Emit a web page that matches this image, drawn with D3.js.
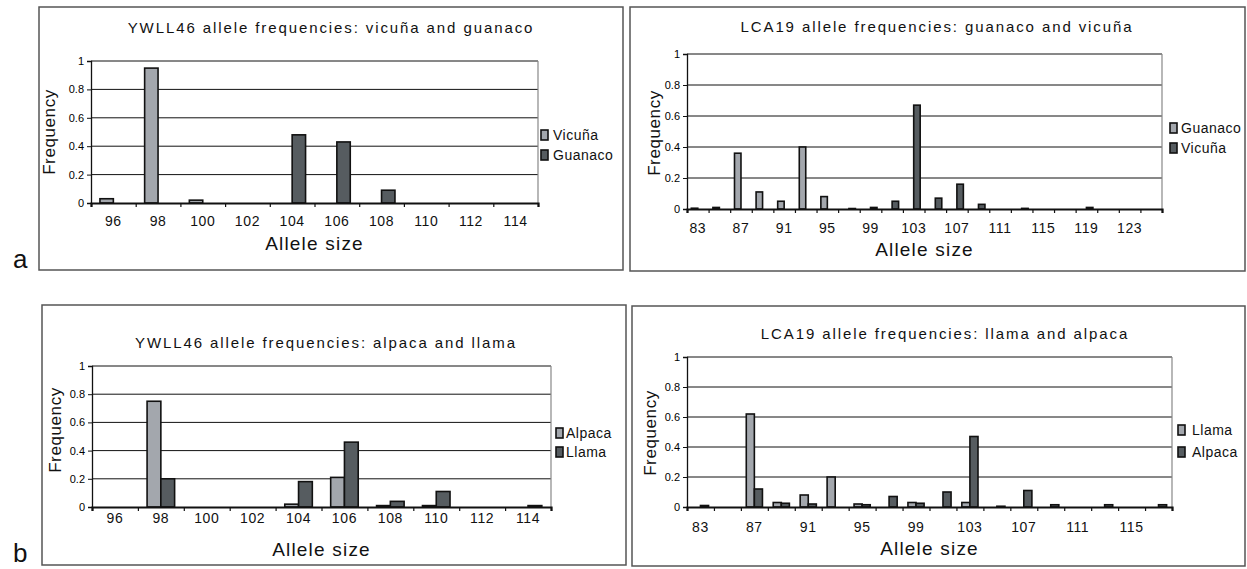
<!DOCTYPE html>
<html>
<head>
<meta charset="utf-8">
<script src="https://cdnjs.cloudflare.com/ajax/libs/d3/7.8.5/d3.min.js"></script>
<style>
body{margin:0;background:#fff;}
svg{display:block;font-family:"Liberation Sans",Arial,sans-serif;}
</style>
</head>
<body>
<svg id="fig" width="1247" height="569"></svg>
<script>
// YWLL46, vicuña and guanaco
var ywllAlleles = [96,98,100,102,104,106,108,110,112,114];
var ywllVicuna  = [0.03,0.95,0.02,0,0,0,0,0,0,0];
var ywllGuanaco = [0,0,0,0,0.48,0.43,0.09,0,0,0];

// LCA19, guanaco and vicuña
var lcaAllelesA = [83,85,87,89,91,93,95,97,99,101,103,105,107,109,111,113,115,117,119,121,123,125];
var lcaGuanaco  = [0.005,0.01,0.36,0.11,0.05,0.40,0.08,0,0,0,0,0,0,0,0,0,0,0,0,0,0,0];
var lcaVicuna   = [0,0,0,0,0,0,0,0.003,0.01,0.05,0.67,0.07,0.16,0.03,0,0.004,0,0,0.01,0,0,0];

// YWLL46, alpaca and llama
var ywllAlpaca = [0,0.75,0,0,0.02,0.21,0.01,0.01,0,0];
var ywllLlama  = [0,0.20,0,0,0.18,0.46,0.04,0.11,0,0.01];

// LCA19, llama and alpaca
var lcaAllelesB = [83,85,87,89,91,93,95,97,99,101,103,105,107,109,111,113,115,117];
var lcaLlama    = [0,0,0.62,0.03,0.08,0.20,0.02,0,0.03,0,0.03,0,0,0,0,0,0,0];
var lcaAlpaca   = [0.01,0,0.12,0.025,0.02,0,0.015,0.07,0.025,0.10,0.47,0.005,0.11,0.015,0,0.015,0,0.015];

var freqTicks = [0,0.2,0.4,0.6,0.8,1];

var light = "#a3a7ad", dark = "#565c60";

var panels = [
  {title:"YWLL46 allele frequencies: vicuña and guanaco", cats:ywllAlleles, labelEvery:1,
   series:[{name:"Vicuña", values:ywllVicuna, fill:light},{name:"Guanaco", values:ywllGuanaco, fill:dark}],
   box:[39,7,623,270], plot:[91,61,538,203], titleXY:[331,28], freqXY:[49,132], tickY:221, xlabY:243,
   leg:[541,553,135,155], letter:"a", letterXY:[13,268]},
  {title:"LCA19 allele frequencies: guanaco and vicuña", cats:lcaAllelesA, labelEvery:2,
   series:[{name:"Guanaco", values:lcaGuanaco, fill:light},{name:"Vicuña", values:lcaVicuna, fill:dark}],
   box:[630,7,1245,271], plot:[687,54,1162,209], titleXY:[937,27], freqXY:[654,133], tickY:228, xlabY:249,
   leg:[1170,1181,128,148]},
  {title:"YWLL46 allele frequencies: alpaca and llama", cats:ywllAlleles, labelEvery:1,
   series:[{name:"Alpaca", values:ywllAlpaca, fill:light},{name:"Llama", values:ywllLlama, fill:dark}],
   box:[42,305,626,565], plot:[92,366,551,507], titleXY:[326,343], freqXY:[55,430], tickY:518, xlabY:549,
   leg:[556,566,433,452], letter:"b", letterXY:[13,562]},
  {title:"LCA19 allele frequencies: llama and alpaca", cats:lcaAllelesB, labelEvery:2,
   series:[{name:"Llama", values:lcaLlama, fill:light},{name:"Alpaca", values:lcaAlpaca, fill:dark}],
   box:[632,306,1245,566], plot:[687,357,1172,507], titleXY:[945,334], freqXY:[650,433], tickY:527, xlabY:548,
   leg:[1178,1192,430,452]}
];

var svg = d3.select("#fig");

panels.forEach(function(p){
  var g = svg.append("g");
  var L = p.plot[0], T = p.plot[1], R = p.plot[2], B = p.plot[3];

  g.append("rect")
    .attr("x", p.box[0]).attr("y", p.box[1])
    .attr("width", p.box[2]-p.box[0]).attr("height", p.box[3]-p.box[1])
    .attr("fill", "none").attr("stroke", "#555").attr("stroke-width", 1.5);

  var x = d3.scaleBand().domain(p.cats).range([L, R]).padding(0);
  var edges = d3.scaleLinear().domain([0, p.cats.length]).range([L, R]);
  var y = d3.scaleLinear().domain([0, 1]).range([B, T]);
  var bw = x.bandwidth() * 0.3;

  // gridlines
  g.selectAll(".grid").data(freqTicks.slice(1)).enter().append("line")
    .attr("x1", L).attr("x2", R)
    .attr("y1", function(d){ return y(d); }).attr("y2", function(d){ return y(d); })
    .attr("stroke", "#111").attr("stroke-width", 1);

  // right border of plot area
  g.append("line").attr("x1", R).attr("x2", R).attr("y1", T).attr("y2", B)
    .attr("stroke", "#888").attr("stroke-width", 1.2);

  // bars
  p.series.forEach(function(s, si){
    g.selectAll(".bar"+si).data(p.cats).enter().append("rect")
      .filter(function(d, i){ return s.values[i] > 0; })
      .attr("x", function(d){ return x(d) + x.bandwidth()/2 - bw + si*bw; })
      .attr("width", bw)
      .attr("y", function(d){ return y(s.values[p.cats.indexOf(d)]); })
      .attr("height", function(d){ return B - y(s.values[p.cats.indexOf(d)]); })
      .attr("fill", s.fill).attr("stroke", "#111").attr("stroke-width", 1.6);
  });

  // y axis
  var ya = g.append("g").attr("transform", "translate(" + L + ",0)")
    .call(d3.axisLeft(y).tickValues(freqTicks).tickSize(4).tickPadding(3).tickFormat(d3.format("")));
  ya.select(".domain").attr("stroke", "#111").attr("stroke-width", 1.3);
  ya.selectAll(".tick line").attr("stroke", "#111");
  ya.selectAll("text").attr("font-size", 11).attr("font-family", "Liberation Sans, Arial, sans-serif").attr("fill", "#000");

  // x axis: tick marks at category edges
  var xe = g.append("g").attr("transform", "translate(0," + B + ")")
    .call(d3.axisBottom(edges).tickValues(d3.range(p.cats.length + 1)).tickSize(4).tickFormat(""));
  xe.select(".domain").attr("stroke", "#111").attr("stroke-width", 2.2);
  xe.selectAll(".tick line").attr("stroke", "#111").attr("stroke-width", 1.2);

  // x axis labels
  var xl = g.append("g").attr("transform", "translate(0," + p.tickY + ")")
    .call(d3.axisBottom(x).tickValues(p.cats.filter(function(d, i){ return i % p.labelEvery === 0; })).tickSize(0).tickPadding(0));
  xl.select(".domain").remove();
  xl.selectAll("text").attr("dy", "0.35em").attr("font-size", 14).attr("letter-spacing", 0.6)
    .attr("font-family", "Liberation Sans, Arial, sans-serif").attr("fill", "#111");

  // titles
  g.append("text").attr("x", p.titleXY[0]).attr("y", p.titleXY[1]).attr("dy", "0.35em")
    .attr("text-anchor", "middle").attr("font-size", 15).attr("letter-spacing", 1.9)
    .attr("fill", "#111").text(p.title);

  g.append("text").attr("transform", "translate(" + p.freqXY[0] + "," + p.freqXY[1] + ") rotate(-90)")
    .attr("dy", "0.35em").attr("text-anchor", "middle").attr("font-size", 17).attr("letter-spacing", 0.6)
    .attr("fill", "#111").text("Frequency");

  g.append("text").attr("x", (L + R) / 2).attr("y", p.xlabY).attr("dy", "0.35em")
    .attr("text-anchor", "middle").attr("font-size", 19).attr("letter-spacing", 1.2)
    .attr("fill", "#111").text("Allele size");

  // legend
  p.series.forEach(function(s, si){
    var ly = p.leg[2 + si];
    g.append("rect").attr("x", p.leg[0]).attr("y", ly - 5).attr("width", 7).attr("height", 10)
      .attr("fill", s.fill).attr("stroke", "#111").attr("stroke-width", 1.6);
    g.append("text").attr("x", p.leg[1]).attr("y", ly).attr("dy", "0.35em")
      .attr("font-size", 14).attr("letter-spacing", 0.5).attr("fill", "#111").text(s.name);
  });

  if (p.letter) {
    svg.append("text").attr("x", p.letterXY[0]).attr("y", p.letterXY[1])
      .attr("font-size", 26).attr("fill", "#111").text(p.letter);
  }
});
</script>
</body>
</html>
